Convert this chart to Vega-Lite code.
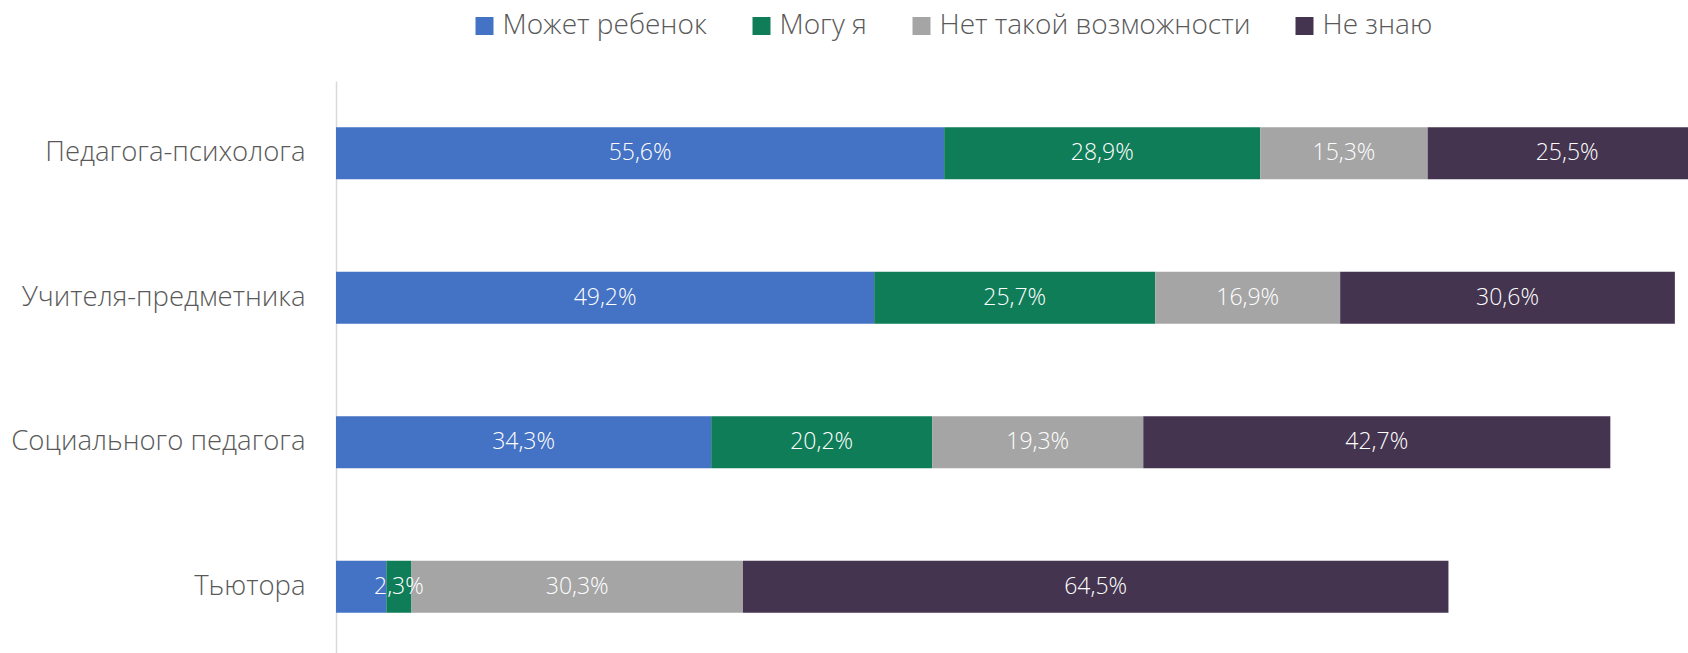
{
  "$schema": "https://vega.github.io/schema/vega-lite/v6.json",
  "autosize": {"type": "none"},
  "padding": {"left": 336, "top": 81, "right": 0, "bottom": 0},
  "width": 1352,
  "height": 578,
  "background": "white",
  "config": {
    "view": {"stroke": null},
    "font": "Open Sans"
  },
  "data": {
    "values": [
      {"category": "Педагога-психолога", "series": "Может ребенок", "value": 55.6},
      {"category": "Педагога-психолога", "series": "Могу я", "value": 28.9},
      {"category": "Педагога-психолога", "series": "Нет такой возможности", "value": 15.3},
      {"category": "Педагога-психолога", "series": "Не знаю", "value": 25.5},
      {"category": "Учителя-предметника", "series": "Может ребенок", "value": 49.2},
      {"category": "Учителя-предметника", "series": "Могу я", "value": 25.7},
      {"category": "Учителя-предметника", "series": "Нет такой возможности", "value": 16.9},
      {"category": "Учителя-предметника", "series": "Не знаю", "value": 30.6},
      {"category": "Социального педагога", "series": "Может ребенок", "value": 34.3},
      {"category": "Социального педагога", "series": "Могу я", "value": 20.2},
      {"category": "Социального педагога", "series": "Нет такой возможности", "value": 19.3},
      {"category": "Социального педагога", "series": "Не знаю", "value": 42.7},
      {"category": "Тьютора", "series": "Может ребенок", "value": 4.6},
      {"category": "Тьютора", "series": "Могу я", "value": 2.3},
      {"category": "Тьютора", "series": "Нет такой возможности", "value": 30.3},
      {"category": "Тьютора", "series": "Не знаю", "value": 64.5}
    ]
  },
  "transform": [
    {"calculate": "indexof(['Может ребенок','Могу я','Нет такой возможности','Не знаю'], datum.series)", "as": "ord"},
    {"stack": "value", "groupby": ["category"], "sort": [{"field": "ord", "order": "ascending"}], "as": ["v0", "v1"]},
    {"calculate": "(datum.v0 + datum.v1) / 2", "as": "vmid"},
    {"calculate": "replace(format(datum.value, '.1f'), '.', ',') + '%'", "as": "label"}
  ],
  "encoding": {
    "y": {
      "field": "category",
      "type": "nominal",
      "sort": ["Педагога-психолога", "Учителя-предметника", "Социального педагога", "Тьютора"],
      "scale": {"paddingInner": 0.64, "paddingOuter": 0.32},
      "axis": {
        "title": null,
        "ticks": false,
        "labelPadding": 31,
        "labelFontSize": 27.5,
        "labelFontWeight": 300,
        "labelColor": "#595959",
        "labelFont": "Open Sans",
        "domainColor": "#d9d9d9",
        "domainWidth": 1.5,
        "labelLimit": 0
      }
    }
  },
  "layer": [
    {
      "mark": {"type": "bar", "clip": true},
      "encoding": {
        "x": {"field": "v0", "type": "quantitative", "scale": {"domain": [0, 123.6], "nice": false, "zero": true}, "axis": null},
        "x2": {"field": "v1"},
        "color": {
          "field": "series",
          "type": "nominal",
          "scale": {
            "domain": ["Может ребенок", "Могу я", "Нет такой возможности", "Не знаю"],
            "range": ["#4472C4", "#0F7D58", "#A5A5A5", "#44344F"]
          },
          "legend": {
            "title": null,
            "orient": "none",
            "direction": "horizontal",
            "legendX": 134.5,
            "legendY": -69,
            "symbolType": "square",
            "symbolSize": 324,
            "symbolStrokeWidth": 0,
            "symbolOpacity": 1,
            "labelOffset": 4,
            "columnPadding": 40,
            "labelFontSize": 28,
            "labelFontWeight": 300,
            "labelColor": "#595959",
            "labelFont": "Open Sans",
            "labelLimit": 0
          }
        }
      }
    },
    {
      "transform": [{"filter": "!(datum.category == 'Тьютора' && datum.series == 'Может ребенок')"}],
      "mark": {"type": "text", "color": "white", "fontSize": 23, "fontWeight": 300, "font": "Open Sans", "align": "center", "baseline": "middle", "clip": true},
      "encoding": {
        "x": {"field": "vmid", "type": "quantitative"},
        "text": {"field": "label"}
      }
    }
  ]
}
